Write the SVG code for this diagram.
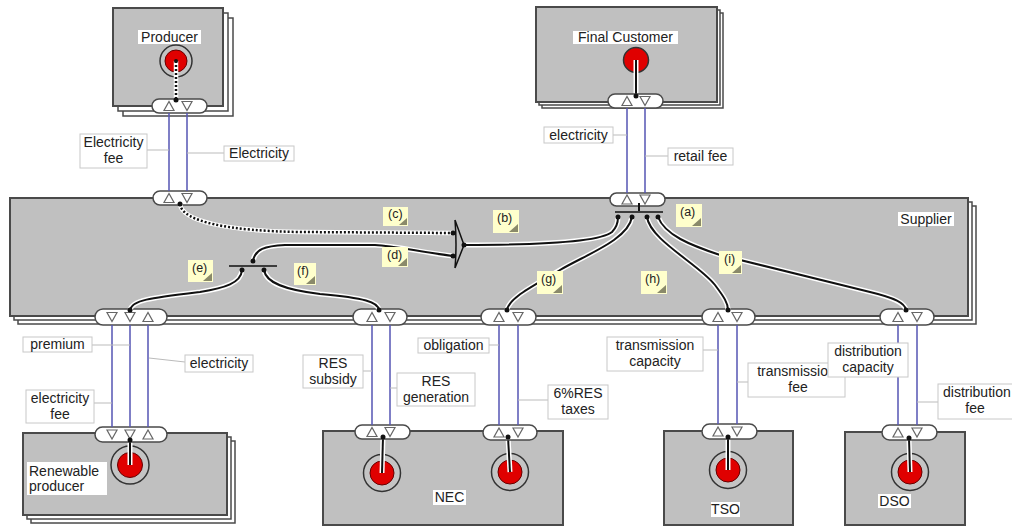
<svg xmlns="http://www.w3.org/2000/svg" xmlns:xlink="http://www.w3.org/1999/xlink" width="1012" height="527" viewBox="0 0 1012 527">
<style>
.box{fill:#c0c0c0;stroke:#4a4a4a;stroke-width:2}
.back{fill:#fff;stroke:#4a4a4a;stroke-width:1.5}
.pill{fill:#fff;stroke:#4a4a4a;stroke-width:1.5}
.tri{fill:#fff;stroke:#666;stroke-width:1.2}
.flow{stroke:#5656b4;stroke-width:1.5;fill:none}
.lead{stroke:#bbb;stroke-width:1;fill:none}
.lbl{fill:#fff;stroke:#c8c8c8;stroke-width:1}
.tbg{fill:#fff}
.t{font-family:"Liberation Sans",Arial,sans-serif;font-size:14px;fill:#222;text-anchor:middle}
.ts{text-anchor:start}
.note{fill:#ffffcc}
.fold{fill:#8a8a6a}
.nt{font-family:"Liberation Sans",Arial,sans-serif;font-size:12.5px;fill:#222}
.halo{stroke:#fff;stroke-width:5;fill:none}
.wire{stroke:#111;stroke-width:2;fill:none}
.dotw{stroke:#fff;stroke-width:4.5;fill:none}
.dotb{stroke:#111;stroke-width:2.5;stroke-dasharray:2 2;fill:none}
.ring{fill:#c4c4c4;stroke:#333;stroke-width:1.5}
.red{fill:#e00000;stroke:#600;stroke-width:1}
.dot{fill:#111}
.bar{stroke:#111;stroke-width:1.5}
</style>
<defs>
<path id="up" class="tri" d="M-5,4.5 L5,4.5 L0,-4.5Z"/>
<path id="dn" class="tri" d="M-5,-4.5 L5,-4.5 L0,4.5Z"/>
</defs>
<rect width="1012" height="527" fill="#fff"/>

<g id="supplier">
<rect class="back" x="18" y="206" width="958" height="118"/>
<rect class="back" x="14" y="202" width="958" height="118"/>
<rect class="box" x="10" y="198" width="958" height="118"/>
<rect class="tbg" x="898" y="212" width="56" height="14"/>
<text class="t" x="926" y="224">Supplier</text>
<rect class="pill" x="153" y="191" width="54" height="14" rx="7"/>
<use href="#up" x="169" y="198"/><use href="#dn" x="187" y="198"/>
<rect class="pill" x="610" y="193" width="55" height="13" rx="6.5"/>
<use href="#up" x="627" y="199.5"/><use href="#dn" x="645" y="199.5"/>
<rect class="pill" x="95" y="309" width="72" height="16" rx="8"/>
<use href="#dn" x="112" y="317"/><use href="#dn" x="130" y="317"/><use href="#up" x="148" y="317"/>
<rect class="pill" x="353" y="309" width="54" height="16" rx="8"/>
<use href="#up" x="372" y="317"/><use href="#dn" x="390" y="317"/>
<rect class="pill" x="481" y="309" width="55" height="16" rx="8"/>
<use href="#up" x="499" y="317"/><use href="#dn" x="518" y="317"/>
<rect class="pill" x="702" y="309" width="53" height="16" rx="8"/>
<use href="#up" x="718" y="317"/><use href="#dn" x="737" y="317"/>
<rect class="pill" x="880" y="309" width="54" height="16" rx="8"/>
<use href="#up" x="898" y="317"/><use href="#dn" x="917" y="317"/>
</g>

<g id="producer">
<rect class="back" x="123" y="18" width="110" height="98"/>
<rect class="back" x="118" y="13" width="110" height="98"/>
<rect class="box" x="113" y="8" width="110" height="98"/>
<rect class="tbg" x="138" y="30" width="63" height="14"/>
<text class="t" x="169.5" y="42">Producer</text>
<circle class="ring" cx="176" cy="61" r="16"/>
<circle class="red" cx="176" cy="61" r="11"/>
<path class="dotw" d="M176,61 V100"/><path class="dotb" d="M176,61 V100"/>
<circle class="dot" cx="176" cy="61" r="2"/>
<rect class="pill" x="152" y="99" width="55" height="14" rx="7"/>
<use href="#up" x="169" y="106"/><use href="#dn" x="187" y="106"/>
<circle class="dot" cx="176" cy="100" r="2.5"/>
</g>

<g id="final-customer">
<rect class="back" x="542" y="13" width="181" height="95"/>
<rect class="back" x="539" y="10" width="181" height="95"/>
<rect class="box" x="536" y="7" width="181" height="95"/>
<rect class="tbg" x="573" y="31" width="105" height="13"/>
<text class="t" x="625.5" y="42">Final Customer</text>
<circle cx="636" cy="60" r="12.5" fill="#e00000" stroke="#333" stroke-width="1.5"/>
<path class="halo" d="M636,60 V96"/><path class="wire" d="M636,60 V96" stroke-width="2.5"/>
<rect class="pill" x="608" y="94" width="55" height="14" rx="7"/>
<use href="#up" x="627" y="101"/><use href="#dn" x="645" y="101"/>
<circle class="dot" cx="636" cy="96" r="2.5"/>
</g>

<g id="renewable-producer">
<rect class="back" x="31" y="441" width="204" height="82"/>
<rect class="back" x="27" y="437" width="204" height="82"/>
<rect class="box" x="23" y="433" width="204" height="82"/>
<rect class="tbg" x="27" y="462" width="80" height="33"/>
<text class="t ts" x="29" y="476">Renewable</text>
<text class="t ts" x="29" y="491">producer</text>
<circle class="ring" cx="130" cy="465" r="19"/>
<circle class="red" cx="130" cy="465" r="12.5"/>
<path class="halo" d="M130,440 V465"/><path class="wire" d="M130,440 V465" stroke-width="2.5"/>
<rect class="pill" x="95" y="427" width="72" height="15" rx="7.5"/>
<use href="#dn" x="112" y="434.5"/><use href="#dn" x="130" y="434.5"/><use href="#up" x="148" y="434.5"/>
<circle class="dot" cx="130" cy="440" r="2.5"/>
</g>

<g id="nec">
<rect class="box" x="323" y="431" width="240" height="94"/>
<rect class="tbg" x="433" y="490" width="33" height="15"/>
<text class="t" x="449.5" y="502">NEC</text>
<circle class="ring" cx="382" cy="473" r="18.5"/>
<circle class="red" cx="382" cy="473" r="12"/>
<path class="halo" d="M383,437 L382,473"/><path class="wire" d="M383,437 L382,473" stroke-width="2.5"/>
<circle class="ring" cx="510" cy="472" r="18.5"/>
<circle class="red" cx="510" cy="472" r="12"/>
<path class="halo" d="M508,437 L510,472"/><path class="wire" d="M508,437 L510,472" stroke-width="2.5"/>
<rect class="pill" x="355" y="425" width="55" height="14" rx="7"/>
<use href="#up" x="372" y="432"/><use href="#dn" x="390" y="432"/>
<circle class="dot" cx="383" cy="437" r="2.5"/>
<rect class="pill" x="483" y="425" width="54" height="15" rx="7.5"/>
<use href="#up" x="499" y="432.5"/><use href="#dn" x="518" y="432.5"/>
<circle class="dot" cx="508" cy="437" r="2.5"/>
</g>

<g id="tso">
<rect class="box" x="664" y="431" width="129" height="94"/>
<rect class="tbg" x="711" y="502" width="29" height="15"/>
<text class="t" x="725.5" y="514">TSO</text>
<circle class="ring" cx="728" cy="470" r="18.5"/>
<circle class="red" cx="728" cy="470" r="12"/>
<path class="halo" d="M728,437 V470"/><path class="wire" d="M728,437 V470" stroke-width="2.5"/>
<rect class="pill" x="702" y="424" width="55" height="15" rx="7.5"/>
<use href="#up" x="718" y="431.5"/><use href="#dn" x="737" y="431.5"/>
<circle class="dot" cx="728" cy="437" r="2.5"/>
</g>

<g id="dso">
<rect class="box" x="845" y="432" width="120" height="93"/>
<rect class="tbg" x="878" y="494" width="33" height="14"/>
<text class="t" x="894.5" y="506">DSO</text>
<circle class="ring" cx="910" cy="472" r="18.5"/>
<circle class="red" cx="910" cy="472" r="12"/>
<path class="halo" d="M909,438 L910,472"/><path class="wire" d="M909,438 L910,472" stroke-width="2.5"/>
<rect class="pill" x="882" y="425" width="55" height="15" rx="7.5"/>
<use href="#up" x="898" y="432.5"/><use href="#dn" x="917" y="432.5"/>
<circle class="dot" cx="909" cy="438" r="2.5"/>
</g>

<g id="connectors">
<!-- supplier internal wiring -->
<path class="dotw" d="M180,204 C182,222 230,231 300,232 L453,233"/>
<path class="dotb" d="M180,204 C182,222 230,231 300,232 L453,233"/>
<path class="halo" d="M253,261 C255,249 265,246 285,245 L375,245 C395,246 420,252 453,256"/>
<path class="wire" d="M253,261 C255,249 265,246 285,245 L375,245 C395,246 420,252 453,256"/>
<path d="M455,220 Q457,244 455,268 M455,220 L464,245 L455,268" fill="none" stroke="#111" stroke-width="1.5"/>
<circle class="dot" cx="453" cy="233" r="2.5"/>
<circle class="dot" cx="453" cy="256" r="2.5"/>
<path class="halo" d="M464,245 C540,245 600,242 612,232 C616,228 618,222 618,217"/>
<path class="wire" d="M464,245 C540,245 600,242 612,232 C616,228 618,222 618,217"/>
<circle class="dot" cx="464" cy="245" r="2.5"/>
<path class="wire" d="M639,203 V211" stroke-width="2.5"/>
<line class="bar" x1="615" y1="212" x2="663" y2="212"/>
<path class="halo" d="M632,217 C628,240 585,255 560,270 C530,288 509,298 507,310"/>
<path class="wire" d="M632,217 C628,240 585,255 560,270 C530,288 509,298 507,310"/>
<path class="halo" d="M647,217 C650,240 700,265 715,285 C724,297 728,303 728,310"/>
<path class="wire" d="M647,217 C650,240 700,265 715,285 C724,297 728,303 728,310"/>
<path class="halo" d="M658,217 C665,235 690,245 720,255 L870,292 C895,298 905,303 906,310"/>
<path class="wire" d="M658,217 C665,235 690,245 720,255 L870,292 C895,298 905,303 906,310"/>
<circle class="dot" cx="618" cy="217" r="2.5"/>
<circle class="dot" cx="632" cy="217" r="2.5"/>
<circle class="dot" cx="647" cy="217" r="2.5"/>
<circle class="dot" cx="658" cy="217" r="2.5"/>
<line class="bar" x1="229" y1="266" x2="277" y2="266"/>
<circle class="dot" cx="253" cy="261" r="2.5"/>
<path class="halo" d="M242,270 C241,283 225,288 200,292 C150,298 132,300 130,310"/>
<path class="wire" d="M242,270 C241,283 225,288 200,292 C150,298 132,300 130,310"/>
<path class="halo" d="M264,270 C266,283 285,290 320,294 C365,298 378,302 379,310"/>
<path class="wire" d="M264,270 C266,283 285,290 320,294 C365,298 378,302 379,310"/>
<circle class="dot" cx="242" cy="270" r="2.5"/>
<circle class="dot" cx="264" cy="270" r="2.5"/>
<circle class="dot" cx="180" cy="204" r="2.5"/>
<circle class="dot" cx="130" cy="310" r="2.5"/>
<circle class="dot" cx="379" cy="310" r="2.5"/>
<circle class="dot" cx="507" cy="310" r="2.5"/>
<circle class="dot" cx="728" cy="310" r="2.5"/>
<circle class="dot" cx="906" cy="310" r="2.5"/>
<!-- flows -->
<path class="flow" d="M169,113 V191 M187,113 V191"/>
<path class="flow" d="M627,108 V193 M645,108 V193"/>
<path class="flow" d="M112,325 V427 M130,325 V427 M148,325 V427"/>
<path class="flow" d="M372,325 V425 M390,325 V425 M499,325 V425 M518,325 V425"/>
<path class="flow" d="M718,325 V424 M737,325 V424"/>
<path class="flow" d="M898,325 V425 M917,325 V425"/>
</g>

<g id="labels">
<path class="lead" d="M147,150 H169 M187,153 H224 M613,135 H627 M645,156 H668 M92,345 H130 M149,358 L185,362 M94,403 H112 M363,371 H372 M390,388 H397 M489,345 H499 M518,400 H548 M703,350 H718 M737,382 H748 M917,402 H938"/>
<rect class="lbl" x="80" y="134" width="67" height="34"/>
<text class="t" x="113.5" y="147">Electricity</text><text class="t" x="113.5" y="163">fee</text>
<rect class="lbl" x="224" y="146" width="70" height="15"/>
<text class="t" x="259" y="158">Electricity</text>
<rect class="lbl" x="544" y="127" width="69" height="16"/>
<text class="t" x="578.5" y="140">electricity</text>
<rect class="lbl" x="668" y="148" width="65" height="17"/>
<text class="t" x="700.5" y="161">retail fee</text>
<rect class="lbl" x="23" y="337" width="69" height="15"/>
<text class="t" x="57.5" y="349">premium</text>
<rect class="lbl" x="185" y="355" width="68" height="17"/>
<text class="t" x="219" y="368">electricity</text>
<rect class="lbl" x="26" y="390" width="68" height="33"/>
<text class="t" x="60" y="403">electricity</text><text class="t" x="60" y="419">fee</text>
<rect class="lbl" x="303" y="355" width="60" height="33"/>
<text class="t" x="333" y="368">RES</text><text class="t" x="333" y="384">subsidy</text>
<rect class="lbl" x="397" y="373" width="78" height="33"/>
<text class="t" x="436" y="386">RES</text><text class="t" x="436" y="402">generation</text>
<rect class="lbl" x="418" y="338" width="71" height="15"/>
<text class="t" x="453.5" y="350">obligation</text>
<rect class="lbl" x="548" y="385" width="60" height="34"/>
<text class="t" x="578" y="398">6%RES</text><text class="t" x="578" y="414">taxes</text>
<rect class="lbl" x="607" y="337" width="96" height="34"/>
<text class="t" x="655" y="350">transmission</text><text class="t" x="655" y="366">capacity</text>
<rect class="lbl" x="748" y="363" width="97" height="34"/>
<text class="t" x="796.5" y="376">transmission</text><text class="t" x="798" y="392">fee</text>
<rect class="lbl" x="828" y="343" width="80" height="34"/>
<text class="t" x="868" y="356">distribution</text><text class="t" x="868" y="372">capacity</text>
<rect class="lbl" x="938" y="384" width="80" height="35"/>
<text class="t ts" x="943" y="397">distribution</text><text class="t" x="975" y="413">fee</text>
</g>

<g id="notes">
<rect class="note" x="383" y="207" width="25" height="19"/><path class="fold" d="M399,225 L407,218 V225Z"/><text class="nt" x="388" y="218">(c)</text>
<rect class="note" x="382" y="247" width="26" height="20"/><path class="fold" d="M398,266 L407,258 V266Z"/><text class="nt" x="387" y="259">(d)</text>
<rect class="note" x="493" y="210" width="26" height="23"/><path class="fold" d="M509,232 L518,224 V232Z"/><text class="nt" x="497" y="222">(b)</text>
<rect class="note" x="676" y="204" width="26" height="23"/><path class="fold" d="M692,226 L701,218 V226Z"/><text class="nt" x="680" y="216">(a)</text>
<rect class="note" x="188" y="260" width="25" height="22"/><path class="fold" d="M203,281 L212,273 V281Z"/><text class="nt" x="192" y="272">(e)</text>
<rect class="note" x="294" y="263" width="22" height="22"/><path class="fold" d="M306,284 L315,276 V284Z"/><text class="nt" x="297" y="275">(f)</text>
<rect class="note" x="537" y="271" width="26" height="23"/><path class="fold" d="M553,293 L562,285 V293Z"/><text class="nt" x="541" y="283">(g)</text>
<rect class="note" x="641" y="271" width="26" height="23"/><path class="fold" d="M657,293 L666,285 V293Z"/><text class="nt" x="645" y="283">(h)</text>
<rect class="note" x="719" y="251" width="23" height="23"/><path class="fold" d="M732,273 L741,265 V273Z"/><text class="nt" x="724" y="263">(i)</text>
</g>
</svg>
